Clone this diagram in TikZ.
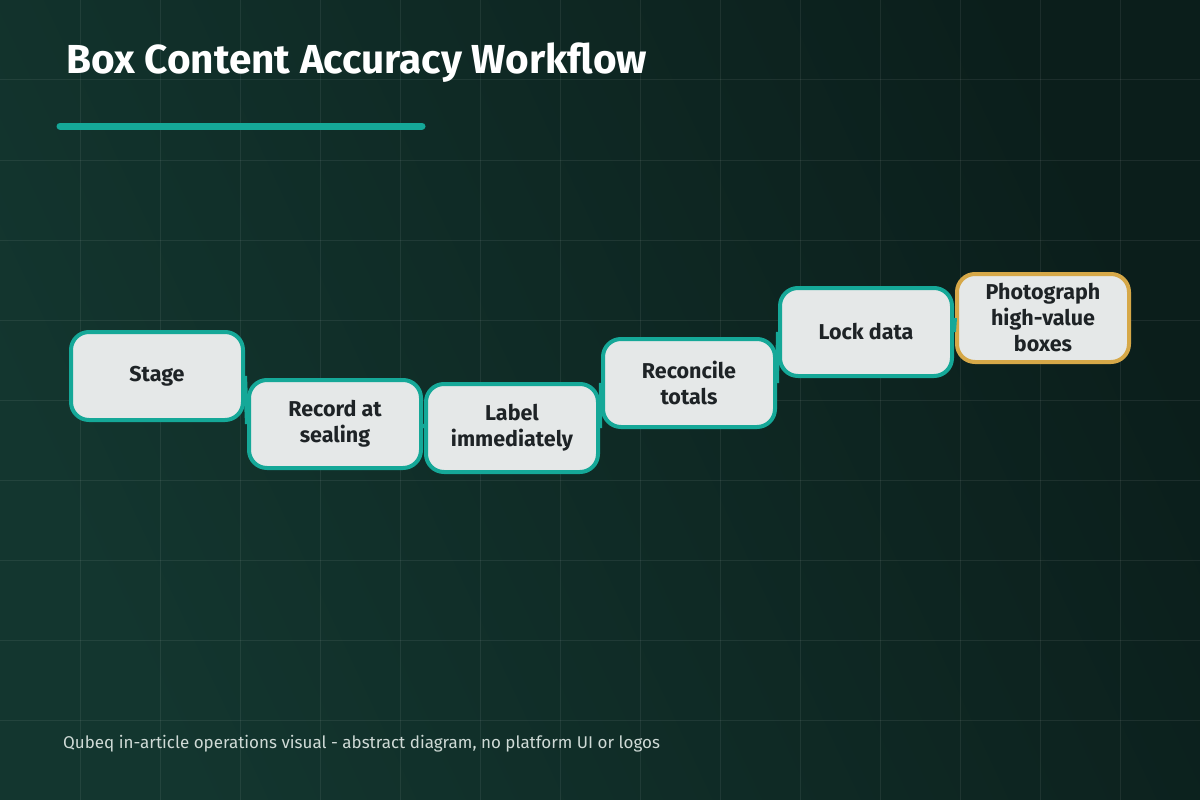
\documentclass[tikz,border=0pt]{standalone}
\usepackage{fontspec}
\setmainfont{Fira Sans}
\usepackage{tikz}

\definecolor{bgtop}{HTML}{13362F}
\definecolor{bgbot}{HTML}{0B1E1B}
\definecolor{accentteal}{HTML}{15A898}
\definecolor{accentgold}{HTML}{D6A848}
\definecolor{boxfill}{HTML}{E5E8E8}
\definecolor{ink}{HTML}{1E2326}
\definecolor{footgray}{HTML}{CFDAD6}

\begin{document}
\begin{tikzpicture}[x=1pt, y=-1pt,
    stepbox/.style={draw=accentteal, line width=4pt, fill=boxfill, rounded corners=18pt,
        minimum width=172pt, minimum height=88pt, inner sep=2pt, align=center, text=ink,
        font=\bfseries\fontsize{21.5}{26}\selectfont},
    goldbox/.style={stepbox, draw=accentgold},
    link/.style={draw=accentteal, line width=4pt},
    gridline/.style={draw=white, opacity=0.07, line width=1pt}]
    \useasboundingbox (0,0) rectangle (1200,800);
    \shade[left color=bgtop, right color=bgbot, shading angle=115] (0,0) rectangle (1200,800);
    \foreach \x in {80,160,...,1120} \draw[gridline] (\x,0) -- (\x,800);
    \foreach \y in {80,160,...,720} \draw[gridline] (0,\y) -- (1200,\y);

    \node[anchor=base west, inner sep=0pt, text=white, font=\bfseries\fontsize{40.5}{44}\selectfont] (title) at (66,74) {Box Content Accuracy Workflow};
    \draw[accentteal, line width=7pt, line cap=round] (60,126) -- (422,126);

    \node[stepbox] (stage) at (157,376) {Stage};
    \node[stepbox] (record) at (335,424) {Record at\\sealing};
    \node[stepbox] (label) at (512,428) {Label\\immediately};
    \node[stepbox] (reconcile) at (689,383) {Reconcile\\totals};
    \node[stepbox] (lock) at (866,332) {Lock data};
    \node[goldbox] (photo) at (1043,318) {Photograph\\high-value\\boxes};

    \draw[link] (stage.east) -- (record.west);
    \draw[link] (record.east) -- (label.west);
    \draw[link] (label.east) -- (reconcile.west);
    \draw[link] (reconcile.east) -- (lock.west);
    \draw[link] (lock.east) -- (photo.west);

    \node[anchor=base west, inner sep=0pt, text=footgray, font=\fontsize{17}{19}\selectfont] (footer) at (63,748) {Qubeq in-article operations visual - abstract diagram, no platform UI or logos};
\end{tikzpicture}
\end{document}
